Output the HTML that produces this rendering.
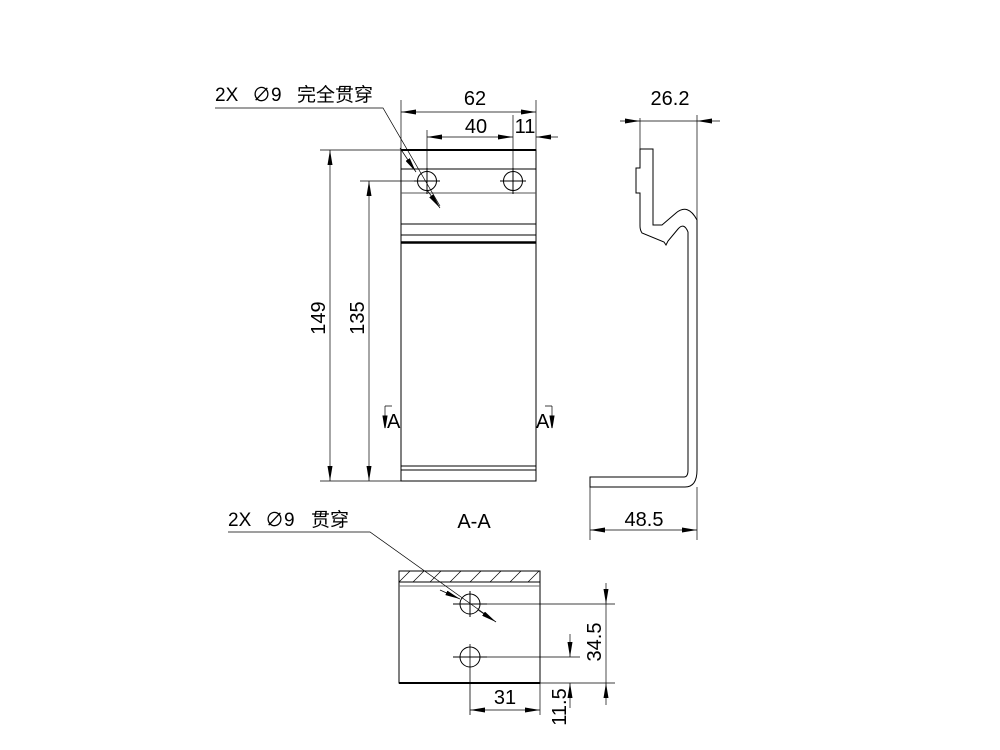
<!DOCTYPE html>
<html><head><meta charset="utf-8"><style>
html,body{margin:0;padding:0;background:#fff;width:1000px;height:750px;overflow:hidden}
text{font-family:"Liberation Sans","Noto Sans CJK SC",sans-serif;fill:#000}
</style></head><body>
<svg width="1000" height="750" viewBox="0 0 1000 750" xmlns="http://www.w3.org/2000/svg">
<defs>
<marker id="a" viewBox="0 0 15 5" refX="15" refY="2.5" markerWidth="15" markerHeight="5" markerUnits="userSpaceOnUse" orient="auto-start-reverse"><path d="M0,0L15,2.5L0,5z" fill="#000"/></marker>
</defs>
<g stroke="#000" fill="none" stroke-width="1">
<rect x="401" y="150" width="135" height="331"/>
<line x1="401" y1="150" x2="536" y2="150" stroke-width="2"/>
<line x1="401" y1="169" x2="536" y2="169"/>
<line x1="401" y1="193" x2="536" y2="193" stroke="#555"/>
<line x1="401" y1="224" x2="536" y2="224"/>
<line x1="401" y1="235" x2="536" y2="235"/>
<line x1="401" y1="242.5" x2="536" y2="242.5" stroke-width="2.5"/>
<line x1="401" y1="466" x2="536" y2="466"/>
<line x1="401" y1="470" x2="536" y2="470"/>
<circle cx="427" cy="181" r="9.5"/><circle cx="513" cy="181" r="9.5"/>
<line x1="414" y1="181" x2="440" y2="181"/><line x1="427" y1="168" x2="427" y2="194"/>
<line x1="500" y1="181" x2="526" y2="181"/><line x1="513" y1="168" x2="513" y2="194"/>
<path d="M401 150V100M536 150V100M427 168V130M513 168V115" stroke-width="0.7"/>
<line x1="401" y1="112" x2="536" y2="112" marker-start="url(#a)" marker-end="url(#a)" stroke-width="0.7"/>
<line x1="427" y1="137" x2="513" y2="137" marker-start="url(#a)" marker-end="url(#a)" stroke-width="0.7"/>
<line x1="558" y1="137" x2="536" y2="137" marker-end="url(#a)" stroke-width="0.7"/>
<path d="M320 150H401M360 181H427M320 481H401" stroke-width="0.7"/>
<line x1="330" y1="150" x2="330" y2="481" marker-start="url(#a)" marker-end="url(#a)" stroke-width="0.7"/>
<line x1="369" y1="181" x2="369" y2="481" marker-start="url(#a)" marker-end="url(#a)" stroke-width="0.7"/>
<path d="M215 108H383L440 206" stroke-width="0.7"/>
<line x1="400" y1="148" x2="416" y2="172" marker-end="url(#a)" stroke-width="0.7"/>
<line x1="427" y1="190" x2="440" y2="208" marker-end="url(#a)" stroke-width="0.7"/>
<path d="M385 406H392M385 406V428M552 406H545M552 406V428" stroke-width="0.7"/>
<path d="M383 416L385 428L387 416z M550 416L552 428L554 416z" fill="#000"/>
<path d="M640 149H653V225H662L676 213Q688 203 697 220V470Q697 487 685 487H590V477H684Q688 477 688 470V232Q684 222 678 229L668 241L666 245L664 242L642 233Q640 230 640 226V193H636V168H640Z"/>
<path d="M640 149V118M697 220V115M590 487V540M697 487V540" stroke-width="0.7"/>
<line x1="620" y1="121" x2="640" y2="121" marker-end="url(#a)" stroke-width="0.7"/>
<line x1="720" y1="121" x2="697" y2="121" marker-end="url(#a)" stroke-width="0.7"/>
<line x1="640" y1="121" x2="697" y2="121" stroke-width="0.7"/>
<line x1="590" y1="530" x2="697" y2="530" marker-start="url(#a)" marker-end="url(#a)" stroke-width="0.7"/>
<rect x="399" y="571" width="141" height="112"/>
<line x1="399" y1="683" x2="540" y2="683" stroke-width="2"/>
<line x1="399" y1="582" x2="540" y2="582"/>
<line x1="399" y1="586" x2="540" y2="586" stroke="#666"/>
<path d="M399 582L410 571M413 582L424 571M430 582L441 571M450 582L461 571M470 582L481 571M490 582L501 571M510 582L521 571M528 582L539 571" stroke-width="0.7"/>
<circle cx="470" cy="604" r="10"/><circle cx="470" cy="657" r="10"/>
<line x1="453" y1="604" x2="487" y2="604"/><line x1="470" y1="591" x2="470" y2="617"/>
<line x1="453" y1="657" x2="487" y2="657"/><line x1="470" y1="644" x2="470" y2="715" stroke-width="0.8"/>
<path d="M487 604H615M487 657H580M540 683H615M540 683V715" stroke-width="0.7"/>
<line x1="606" y1="604" x2="606" y2="683" stroke-width="0.7"/>
<line x1="606" y1="583" x2="606" y2="604" marker-end="url(#a)" stroke-width="0.7"/>
<line x1="606" y1="705" x2="606" y2="683" marker-end="url(#a)" stroke-width="0.7"/>
<line x1="570" y1="634" x2="570" y2="657" marker-end="url(#a)" stroke-width="0.7"/>
<line x1="570" y1="708" x2="570" y2="683" marker-end="url(#a)" stroke-width="0.7"/>
<line x1="470" y1="710" x2="540" y2="710" marker-start="url(#a)" marker-end="url(#a)" stroke-width="0.7"/>
<path d="M228 532H370L496 622" stroke-width="0.7"/>
<line x1="440" y1="590" x2="460" y2="599" marker-end="url(#a)" stroke-width="0.7"/>
<line x1="478" y1="610" x2="496" y2="622" marker-end="url(#a)" stroke-width="0.7"/>
</g>
<g font-size="20">
<text x="215" y="101" font-size="19">2X</text>
<text x="252" y="101" font-size="19">∅9</text>
<text x="297" y="101" font-size="19">完全贯穿</text>
<text x="475" y="105" text-anchor="middle">62</text>
<text x="476" y="133" text-anchor="middle">40</text>
<text x="525" y="133" text-anchor="middle">11</text>
<text x="670" y="105" text-anchor="middle">26.2</text>
<text x="644" y="526" text-anchor="middle">48.5</text>
<text x="474" y="528" text-anchor="middle">A-A</text>
<text x="228" y="526" font-size="19">2X</text>
<text x="265" y="526" font-size="19">∅9</text>
<text x="311" y="526" font-size="19">贯穿</text>
<text x="505" y="704" text-anchor="middle">31</text>
<text x="387" y="428">A</text>
<text x="536" y="428">A</text>
<text transform="translate(325 318) rotate(-90)" text-anchor="middle">149</text>
<text transform="translate(364 318) rotate(-90)" text-anchor="middle">135</text>
<text transform="translate(601 642) rotate(-90)" text-anchor="middle">34.5</text>
<text transform="translate(566 707) rotate(-90)" text-anchor="middle">11.5</text>
</g>
</svg>
</body></html>
